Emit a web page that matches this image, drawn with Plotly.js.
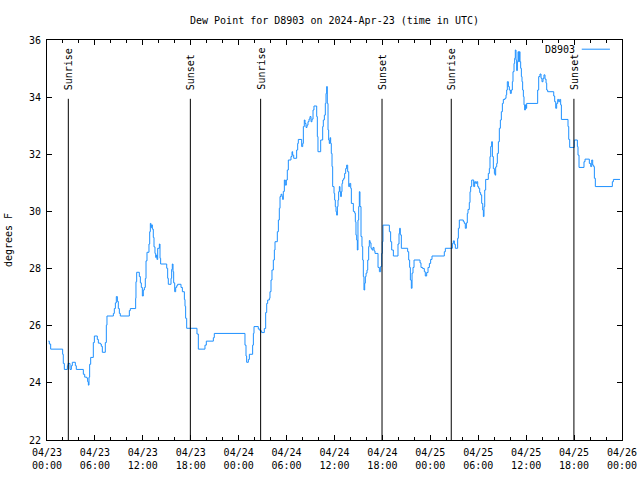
<!DOCTYPE html>
<html>
<head>
<meta charset="utf-8">
<script src="https://cdn.plot.ly/plotly-3.0.1.min.js"></script>
<style>html,body{margin:0;padding:0;background:#fff;}#chart{width:640px;height:480px;}</style>
</head>
<body>
<div id="chart"></div>
<script>
// hours since 2024-04-23 00:00 UTC
const hours = [
0.17,0.29,0.46,1.96,2.04,2.17,2.55,2.63,2.88,3.05,3.17,3.55,3.67,4.55,4.72,4.97,5.09,5.18,5.26,5.34,5.47,5.80,5.93,6.30,6.43,6.68,6.80,6.93,7.30,7.43,7.51,
8.31,8.43,8.56,8.68,8.81,8.93,9.06,9.18,10.31,10.43,11.10,11.14,11.23,11.56,11.69,11.81,11.94,12.06,12.19,12.31,12.40,12.52,12.77,12.86,12.94,13.02,13.11,13.19,13.31,13.40,13.52,13.61,13.69,13.77,13.86,14.07,14.15,14.23,
14.99,15.11,15.19,15.53,15.61,15.69,15.78,15.86,15.99,16.11,16.24,16.36,16.78,16.95,17.20,17.28,17.36,17.49,18.78,18.95,
19.78,19.95,20.83,20.95,24.79,24.92,25.00,25.21,25.34,25.75,25.84,25.92,26.46,26.67,26.88,27.21,27.38,27.51,27.63,27.84,27.92,28.05,28.17,28.34,28.47,
28.55,28.84,28.97,29.09,29.18,29.30,29.43,29.51,29.59,29.72,29.84,29.97,30.09,30.22,30.55,30.68,30.76,30.89,31.26,31.39,31.47,31.89,32.02,32.10,32.22,32.31,32.43,32.56,32.68,32.81,32.93,33.06,33.18,33.31,33.43,
33.77,33.85,33.93,34.27,34.52,34.60,34.73,34.85,34.94,35.02,35.10,35.19,35.27,35.35,35.44,35.52,35.60,35.69,35.77,35.94,36.02,36.10,36.19,36.27,36.36,36.44,36.52,36.61,36.69,36.77,36.86,36.94,37.02,37.15,37.27,37.40,37.52,37.65,37.78,37.90,38.03,38.11,38.36,38.53,38.61,38.69,38.78,38.86,38.94,39.03,39.11,39.19,39.32,39.44,39.53,39.61,39.69,39.78,39.86,39.95,40.07,40.16,40.28,40.36,
40.45,40.57,40.70,40.82,40.95,41.07,41.45,41.62,41.78,41.91,41.99,42.07,42.87,43.03,43.16,43.37,43.95,44.08,44.16,44.24,44.37,45.16,45.29,45.41,45.50,45.62,45.71,45.83,45.96,46.71,46.83,47.04,47.25,47.37,47.54,47.71,47.88,48.04,48.21,49.75,49.88,50.76,50.88,51.01,51.13,51.42,51.51,51.63,52.13,52.26,52.38,52.51,52.63,52.72,52.88,52.97,53.05,53.18,
53.43,53.55,53.68,53.80,53.93,54.05,54.18,54.30,54.43,54.56,54.64,54.72,54.81,54.93,55.26,55.39,55.47,55.56,55.68,55.77,55.89,56.02,56.10,56.18,56.31,56.39,56.52,56.64,56.77,56.89,57.02,57.14,57.35,57.48,57.56,57.64,57.77,57.89,58.02,58.14,58.27,58.35,58.48,58.56,58.64,58.73,58.81,58.90,58.98,59.06,59.15,59.23,59.31,59.40,59.48,59.56,59.65,59.73,59.81,59.90,59.98,60.06,
61.44,61.57,61.73,61.86,61.98,62.11,62.23,62.36,62.49,62.57,62.69,63.45,63.57,63.70,63.82,63.95,64.07,64.20,64.32,64.41,65.24,65.33,65.45,66.03,66.41,66.49,66.62,67.24,67.37,67.91,68.08,68.21,68.33,68.45,68.54,68.66,70.79,70.92,71.75
];
const dewPoint = [
25.46,25.36,25.18,25.00,24.68,24.47,24.60,24.68,24.47,24.60,24.72,24.60,24.47,24.30,24.20,24.17,24.04,23.92,24.20,24.65,24.89,25.41,25.64,25.52,25.39,25.36,25.28,25.07,25.41,26.02,26.34,
26.43,26.60,26.80,27.02,26.85,26.60,26.43,26.34,26.53,26.60,26.96,27.54,27.87,27.72,27.50,27.34,27.04,27.25,27.34,27.65,28.27,28.57,28.86,29.29,29.58,29.44,29.53,29.38,29.09,28.76,28.53,28.39,28.47,28.32,28.71,28.86,28.36,28.16,
28.01,27.66,27.45,27.66,27.97,28.16,27.89,27.50,27.19,27.34,27.40,27.45,27.34,27.19,26.92,26.68,26.26,25.91,25.71,25.18,
25.32,25.46,25.58,25.73,25.32,24.94,24.72,24.82,25.00,25.32,25.73,25.97,25.88,25.82,25.76,25.90,26.46,26.78,26.90,26.96,27.19,27.60,27.95,28.30,28.65,
28.94,29.29,29.70,30.11,30.52,30.60,30.52,30.42,30.70,31.10,30.92,31.10,31.45,31.80,31.92,32.09,31.97,31.86,32.15,32.38,32.52,32.27,32.38,32.97,33.20,33.08,32.94,33.02,33.14,33.23,33.32,33.14,33.23,33.55,33.69,
33.32,32.62,32.09,32.50,32.97,33.20,33.37,33.78,34.13,34.37,33.78,32.85,32.50,32.38,32.58,32.38,32.03,31.57,30.87,30.63,30.40,30.17,29.99,29.87,30.17,30.40,30.69,30.87,30.69,30.52,30.69,30.98,31.10,31.16,31.33,31.50,31.62,31.39,30.87,30.98,30.81,30.28,30.00,29.94,29.64,29.17,29.00,28.65,29.70,30.17,30.69,30.17,29.12,28.77,28.30,27.72,27.25,27.49,27.72,27.84,27.95,28.30,28.77,28.98,
28.90,28.71,28.65,28.74,28.62,28.53,28.04,27.89,28.07,28.53,28.94,29.52,29.29,28.94,28.65,28.44,28.86,29.23,29.41,29.18,28.71,28.59,28.30,28.04,27.60,27.31,27.84,28.04,28.30,28.20,28.04,28.00,27.89,27.74,27.86,28.04,28.18,28.32,28.44,28.59,28.71,28.88,28.97,28.85,28.71,29.06,29.41,29.70,29.64,29.58,29.41,29.60,29.93,30.07,30.31,30.69,30.87,31.10,
30.87,31.04,30.98,31.04,30.87,30.81,30.66,30.58,30.28,30.05,29.82,30.17,30.75,31.12,31.33,31.50,31.92,32.27,32.44,31.92,31.50,31.33,31.27,31.56,31.68,32.03,32.44,32.91,33.20,33.49,33.78,33.92,33.96,34.08,34.25,34.54,34.37,34.25,34.13,34.25,34.54,34.89,35.18,35.36,35.65,35.30,34.93,35.24,35.59,35.24,35.59,35.24,35.01,34.72,34.54,34.25,34.02,33.73,33.55,33.73,33.61,33.78,
34.25,34.72,34.81,34.66,34.54,34.66,34.78,34.63,34.49,34.25,34.19,34.04,33.84,33.61,33.78,33.92,33.84,33.92,33.73,33.22,32.97,32.52,32.24,32.50,32.27,31.97,31.54,31.74,31.83,31.68,31.57,31.80,31.62,31.57,31.16,30.87,31.04,31.12,31.12
];

const tickHours = [0,6,12,18,24,30,36,42,48,54,60,66,72];
const tickLabels = [
"04/23<br>00:00","04/23<br>06:00","04/23<br>12:00","04/23<br>18:00",
"04/24<br>00:00","04/24<br>06:00","04/24<br>12:00","04/24<br>18:00",
"04/25<br>00:00","04/25<br>06:00","04/25<br>12:00","04/25<br>18:00",
"04/26<br>00:00"];
const minorHours = [2,4,8,10,14,16,20,22,26,28,32,34,38,40,44,46,50,52,56,58,62,64,68,70];

const sunEventHours = [2.67, 17.95, 26.75, 41.95, 50.62, 65.98];
const sunEventLabels = ["Sunrise","Sunset","Sunrise","Sunset","Sunrise","Sunset"];

const seriesName = "D8903";
const FONT = "DejaVu Sans Mono";

const trace = {
  x: hours, y: dewPoint, type: "scatter", mode: "lines",
  line: {color: "#1E90FF", width: 1, shape: "hv"},
  name: seriesName, showlegend: false
};

const shapes = sunEventHours.map(h => ({
  type: "line", xref: "x", yref: "paper", x0: h, x1: h, y0: 0, y1: 0.853,
  line: {color: "#000", width: 1}
}));
shapes.push({type: "line", xref: "paper", yref: "paper", x0: 0.930, x1: 0.979, y0: 0.977, y1: 0.977,
  line: {color: "#1E90FF", width: 1}});

const annotations = sunEventHours.map((h, i) => ({
  x: h, y: 0.87, xref: "x", yref: "paper", text: sunEventLabels[i],
  textangle: -90, showarrow: false, xanchor: "center", yanchor: "bottom",
  font: {family: FONT, size: 10, color: "#000"}
}));
annotations.push({x: 0.922, y: 0.977, xref: "paper", yref: "paper", text: seriesName,
  showarrow: false, xanchor: "right", yanchor: "middle",
  font: {family: FONT, size: 10, color: "#000"}});

const layout = {
  width: 640, height: 480,
  margin: {l: 47, r: 18, t: 40, b: 40},
  paper_bgcolor: "#fff", plot_bgcolor: "#fff",
  font: {family: FONT, size: 10, color: "#000"},
  title: {text: "Dew Point for D8903 on 2024-Apr-23 (time in UTC)", x: 0.5, xref: "paper",
          y: 0.958, yref: "container", yanchor: "middle", font: {family: FONT, size: 10, color: "#000"}},
  xaxis: {
    range: [0, 72], tickmode: "array", tickvals: tickHours, ticktext: tickLabels,
    ticks: "inside", ticklen: 5, tickcolor: "#000", showline: true, linecolor: "#000", linewidth: 1,
    mirror: "ticks", showgrid: false, zeroline: false, ticklabelstandoff: 3,
    minor: {tickmode: "array", tickvals: minorHours, ticks: "inside", ticklen: 3, tickcolor: "#000", showgrid: false},
    tickfont: {family: FONT, size: 10, color: "#000"}
  },
  yaxis: {
    range: [22, 36], dtick: 2, tick0: 22,
    ticks: "inside", ticklen: 5, tickcolor: "#000", showline: true, linecolor: "#000", linewidth: 1,
    mirror: "ticks", showgrid: false, zeroline: false, ticklabelstandoff: 3,
    tickfont: {family: FONT, size: 10, color: "#000"},
    title: {text: "degrees F", standoff: 14, font: {family: FONT, size: 10, color: "#000"}}
  },
  shapes: shapes,
  annotations: annotations,
  showlegend: false
};

Plotly.newPlot("chart", [trace], layout, {displayModeBar: false, staticPlot: true});
</script>
</body>
</html>
